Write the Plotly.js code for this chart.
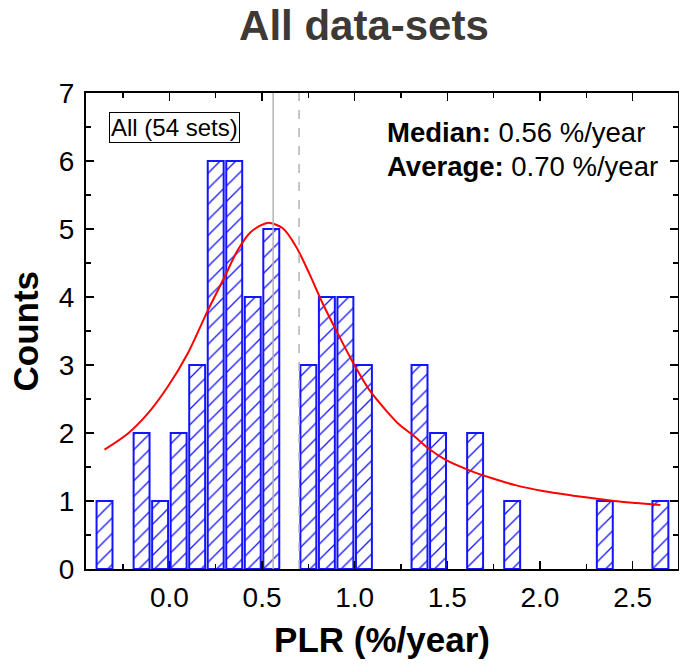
<!DOCTYPE html>
<html>
<head>
<meta charset="utf-8">
<script src="https://cdn.plot.ly/plotly-3.0.1.min.js"></script>
<style>html,body{margin:0;padding:0;background:#fff;}#chart{width:679px;height:664px;}</style>
</head>
<body>
<div id="chart"></div>
<script>
// Histogram bins (PLR %/year) and counts
const binCenters = [-0.35, -0.15, -0.05, 0.05, 0.15, 0.25, 0.35, 0.45, 0.55, 0.75, 0.85, 0.95, 1.05, 1.35, 1.45, 1.65, 1.85, 2.35, 2.65];
const counts     = [1, 2, 1, 2, 3, 6, 6, 4, 5, 3, 4, 4, 3, 3, 2, 2, 1, 1, 1];

// Fitted curve, points
const fitX = [-0.35, -0.225, -0.117, -0.009, 0.099, 0.207, 0.297, 0.369, 0.441, 0.531, 0.612, 0.684, 0.756, 0.828, 0.900, 0.990, 1.080, 1.170, 1.242, 1.314, 1.404, 1.494, 1.620, 1.746, 1.872, 2.016, 2.214, 2.40, 2.52, 2.65];
const fitY = [1.756, 1.99, 2.285, 2.68, 3.17, 3.80, 4.29, 4.69, 4.96, 5.09, 5.01, 4.74, 4.34, 3.90, 3.51, 3.04, 2.63, 2.33, 2.12, 1.97, 1.76, 1.60, 1.45, 1.33, 1.23, 1.147, 1.065, 1.0, 0.97, 0.94];

const medianVal = 0.56;
const averageVal = 0.70;
const xTickVals = [0, 0.5, 1.0, 1.5, 2.0, 2.5];
const xTickText = ['0.0', '0.5', '1.0', '1.5', '2.0', '2.5'];
const yTickVals = [0, 1, 2, 3, 4, 5, 6, 7];

const FONT = 'Liberation Sans, Arial, sans-serif';

const bars = {
  type: 'bar',
  x: binCenters,
  y: counts,
  width: 0.086,
  marker: {
    color: 'white',
    line: {color: '#1414ff', width: 2},
    pattern: {shape: '/', fgcolor: '#1414ff', bgcolor: 'white', size: 11, solidity: 0.12}
  },
  hoverinfo: 'skip',
  showlegend: false
};

const fit = {
  type: 'scatter',
  mode: 'lines',
  x: fitX,
  y: fitY,
  line: {color: '#ff0000', width: 2, shape: 'spline', smoothing: 0.8},
  showlegend: false
};

const axisCommon = {
  showline: true,
  linecolor: 'black',
  linewidth: 2,
  mirror: 'allticks',
  ticks: 'inside',
  ticklen: 8,
  tickwidth: 1.5,
  tickcolor: 'black',
  showgrid: false,
  zeroline: false,
  tickfont: {family: FONT, size: 28, color: 'black'}
};

const layout = {
  width: 679,
  height: 664,
  margin: {l: 86, r: 1, t: 93, b: 95},
  paper_bgcolor: 'white',
  plot_bgcolor: 'white',
  title: {
    text: '<b>All data-sets</b>',
    font: {family: FONT, size: 42, color: '#3d3935'},
    x: 0.536, xref: 'container', xanchor: 'center',
    y: 0.962, yref: 'container', yanchor: 'middle'
  },
  xaxis: Object.assign({}, axisCommon, {
    range: [-0.45, 2.745],
    tickvals: xTickVals,
    ticktext: xTickText,
    ticklabelstandoff: 2,
    minor: {dtick: 0.25, tick0: 0, ticks: 'inside', ticklen: 5, tickwidth: 1.5, tickcolor: 'black'},
    title: {text: '<b>PLR (%/year)</b>', font: {family: FONT, size: 35, color: 'black'}, standoff: 16}
  }),
  yaxis: Object.assign({}, axisCommon, {
    range: [0, 7],
    tickvals: yTickVals,
    ticklabelstandoff: 4,
    minor: {dtick: 0.5, tick0: 0, ticks: 'inside', ticklen: 5, tickwidth: 1.5, tickcolor: 'black'}
  }),
  shapes: [
    {type: 'line', xref: 'x', yref: 'paper', x0: medianVal, x1: medianVal, y0: 0, y1: 1, layer: 'above',
     line: {color: '#b4b4b4', width: 1.5}},
    {type: 'line', xref: 'x', yref: 'paper', x0: averageVal, x1: averageVal, y0: 0, y1: 1, layer: 'above',
     line: {color: '#b4b4b4', width: 1.5, dash: 'dash'}}
  ],
  annotations: [
    {xref: 'paper', yref: 'paper', x: -0.1022, y: 0.5, xanchor: 'center', yanchor: 'middle', showarrow: false,
     textangle: -90, text: '<b>Counts</b>', font: {family: FONT, size: 35, color: 'black'}},
    {xref: 'paper', yref: 'y', x: 0.1495, y: 6.49, xanchor: 'center', yanchor: 'middle', showarrow: false,
     text: 'All (54 sets)', font: {family: FONT, size: 24, color: 'black'},
     bordercolor: 'black', borderwidth: 1, borderpad: 1, bgcolor: 'white'},
    {xref: 'paper', yref: 'y', x: 0.505, y: 6.42, xanchor: 'left', yanchor: 'middle', showarrow: false,
     text: '<b>Median:</b> 0.56 %/year', font: {family: FONT, size: 27.5, color: 'black'}},
    {xref: 'paper', yref: 'y', x: 0.505, y: 5.92, xanchor: 'left', yanchor: 'middle', showarrow: false,
     text: '<b>Average:</b> 0.70 %/year', font: {family: FONT, size: 27.5, color: 'black'}}
  ],
  bargap: 0,
  showlegend: false
};

Plotly.newPlot('chart', [bars, fit], layout, {displayModeBar: false, staticPlot: true});
</script>
</body>
</html>
